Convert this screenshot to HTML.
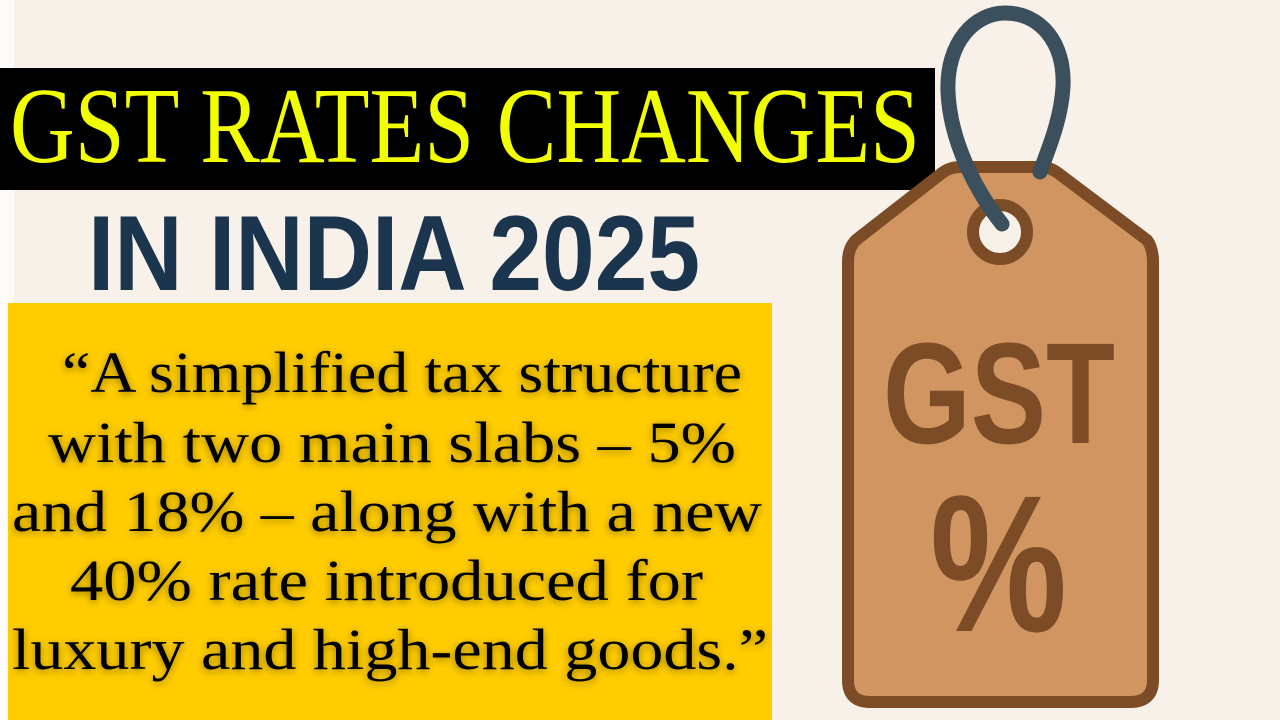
<!DOCTYPE html>
<html><head><style>
html,body{margin:0;padding:0;width:1280px;height:720px;overflow:hidden;background:#f8f1ea;}
</style></head><body>
<svg width="1280" height="720" viewBox="0 0 1280 720" xmlns="http://www.w3.org/2000/svg">
<defs>
<filter id="sh" x="-10%" y="-30%" width="120%" height="160%"><feGaussianBlur in="SourceAlpha" stdDeviation="4"/><feOffset dx="0" dy="2"/><feComponentTransfer><feFuncA type="linear" slope="0.4"/></feComponentTransfer><feMerge><feMergeNode/><feMergeNode in="SourceGraphic"/></feMerge></filter>
</defs>
<rect x="0" y="0" width="14" height="720" fill="#fdfbf9"/>
<rect x="0" y="68" width="935" height="122" fill="#000"/>
<text x="10" y="162" font-family="Liberation Serif, serif" font-size="108" fill="#f2ff00" textLength="910" lengthAdjust="spacingAndGlyphs">GST RATES CHANGES</text>
<text x="88" y="290" font-family="Liberation Sans, sans-serif" font-weight="bold" font-size="107" fill="#1b354e" textLength="612" lengthAdjust="spacingAndGlyphs">IN INDIA 2025</text>
<rect x="8" y="303" width="764" height="417" fill="#ffcc00"/>
<g font-family="Liberation Serif, serif" font-size="58" fill="#000" filter="url(#sh)">
<text x="62" y="392" textLength="680" lengthAdjust="spacingAndGlyphs">“A simplified tax structure</text>
<text x="48" y="462" textLength="688" lengthAdjust="spacingAndGlyphs">with two main slabs – 5%</text>
<text x="12" y="531" textLength="750" lengthAdjust="spacingAndGlyphs">and 18% – along with a new</text>
<text x="70" y="600" textLength="633" lengthAdjust="spacingAndGlyphs">40% rate introduced for</text>
<text x="12" y="669" textLength="756" lengthAdjust="spacingAndGlyphs">luxury and high-end goods.”</text>
</g>
<path d="M960 167 L1040 167 Q1050 167 1058 173 L1147 240 Q1153 248 1153 262 L1153 680 Q1153 702 1130 702 L870 702 Q848 702 848 680 L848 262 Q848 248 856 240 L942 173 Q950 167 960 167 Z" fill="#d09560" stroke="#7b4c26" stroke-width="12" stroke-linejoin="round"/>
<circle cx="1000" cy="232" r="27" fill="#f8f1ea" stroke="#7b4c26" stroke-width="12"/>
<path d="M1002 224 C 975 190, 950 140, 948 92 C 946 42, 975 13, 1005 13 C 1040 13, 1065 42, 1063 87 C 1061 120, 1048 150, 1040 172" fill="none" stroke="#3b4f5c" stroke-width="15" stroke-linecap="round"/>
<g font-family="Liberation Sans, sans-serif" font-weight="bold" fill="#7b4c26">
<text x="883" y="443" font-size="144" textLength="232" lengthAdjust="spacingAndGlyphs">GST</text>
<text x="930" y="631" font-size="195" textLength="137" lengthAdjust="spacingAndGlyphs">%</text>
</g>
</svg>
</body></html>
